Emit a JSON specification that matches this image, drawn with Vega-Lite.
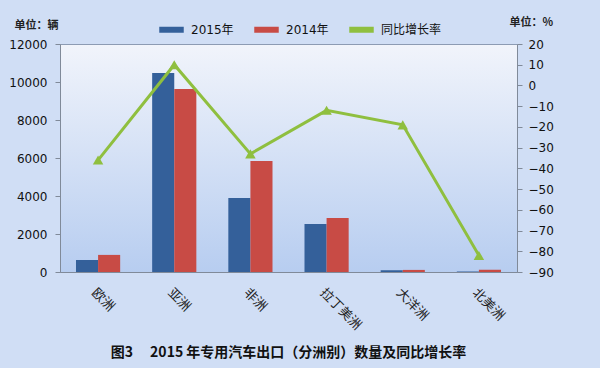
{
  "$schema": "https://vega.github.io/schema/vega-lite/v6.json",
  "width": 457,
  "height": 228,
  "autosize": {"type": "none"},
  "padding": {"left": 60, "top": 44, "right": 83, "bottom": 96},
  "background": "#d0def5",
  "title": {
    "text": "图3\u3000 2015 年专用汽车出口（分洲别）数量及同比增长率",
    "orient": "bottom",
    "anchor": "middle",
    "font": "Noto Sans CJK SC",
    "fontSize": 14,
    "fontWeight": "bold",
    "color": "#111111",
    "offset": 14
  },
  "config": {
    "view": {
      "stroke": "#8c9bb3",
      "fill": {"gradient": "linear", "x1": 0, "y1": 0, "x2": 0, "y2": 1, "stops": [{"offset": 0, "color": "#f1f4fb"}, {"offset": 1, "color": "#b7cdf0"}]}
    },
    "axis": {
      "labelFont": "DejaVu Sans, Noto Sans CJK SC",
      "labelFontSize": 12,
      "labelColor": "#111111",
      "domainColor": "#808a99",
      "tickColor": "#808a99",
      "grid": false,
      "titleFont": "Noto Sans CJK SC",
      "titleFontSize": 11,
      "titleFontWeight": "bold",
      "titleColor": "#222222"
    },
    "legend": {
      "labelFont": "DejaVu Sans, Noto Sans CJK SC",
      "labelFontSize": 12,
      "labelColor": "#111111",
      "symbolType": "stroke",
      "symbolStrokeWidth": 6,
      "symbolSize": 600
    }
  },
  "datasets": {
    "bars": [
      {"洲": "欧洲", "年份": "2015年", "数量": 630},
      {"洲": "欧洲", "年份": "2014年", "数量": 900},
      {"洲": "亚洲", "年份": "2015年", "数量": 10470},
      {"洲": "亚洲", "年份": "2014年", "数量": 9630},
      {"洲": "非洲", "年份": "2015年", "数量": 3900},
      {"洲": "非洲", "年份": "2014年", "数量": 5840},
      {"洲": "拉丁美洲", "年份": "2015年", "数量": 2530},
      {"洲": "拉丁美洲", "年份": "2014年", "数量": 2840},
      {"洲": "大洋洲", "年份": "2015年", "数量": 90},
      {"洲": "大洋洲", "年份": "2014年", "数量": 110},
      {"洲": "北美洲", "年份": "2015年", "数量": 20},
      {"洲": "北美洲", "年份": "2014年", "数量": 120}
    ],
    "growth": [
      {"洲": "欧洲", "增长率": -36},
      {"洲": "亚洲", "增长率": 10},
      {"洲": "非洲", "增长率": -33},
      {"洲": "拉丁美洲", "增长率": -12},
      {"洲": "大洋洲", "增长率": -19},
      {"洲": "北美洲", "增长率": -82}
    ]
  },
  "layer": [
    {
      "data": {"name": "bars"},
      "mark": {"type": "bar"},
      "encoding": {
        "x": {
          "field": "洲",
          "type": "nominal",
          "sort": null,
          "scale": {"paddingInner": 0.42, "paddingOuter": 0.21},
          "axis": {
            "title": null,
            "labelAngle": 45,
            "labelFont": "Noto Sans CJK SC",
            "labelFontSize": 13,
            "labelFontWeight": "normal",
            "labelColor": "#222222",
            "labelPadding": 14,
            "ticks": false
          }
        },
        "xOffset": {"field": "年份", "type": "nominal", "sort": ["2015年", "2014年"]},
        "y": {
          "field": "数量",
          "type": "quantitative",
          "scale": {"domain": [0, 12000]},
          "axis": {
            "orient": "left",
            "values": [0, 2000, 4000, 6000, 8000, 10000, 12000],
            "format": "d",
            "title": "单位：辆",
            "titleAngle": 0,
            "titleX": -46,
            "titleY": -19,
            "titleAlign": "left",
            "titleBaseline": "middle",
            "labelPadding": 8
          }
        },
        "color": {
          "field": "年份",
          "type": "nominal",
          "scale": {"domain": ["2015年", "2014年", "同比增长率"], "range": ["#34609a", "#c84b45", "#8fbf3f"]},
          "legend": {"title": null, "orient": "none", "direction": "horizontal", "legendX": 96, "legendY": -30, "columnPadding": 8}
        }
      }
    },
    {
      "data": {"name": "growth"},
      "mark": {"type": "line", "strokeWidth": 3, "point": {"shape": "triangle-up", "size": 110, "filled": true}},
      "encoding": {
        "x": {"field": "洲", "type": "nominal", "sort": null},
        "y": {
          "field": "增长率",
          "type": "quantitative",
          "scale": {"domain": [-90, 20]},
          "axis": {
            "orient": "right",
            "values": [-90, -80, -70, -60, -50, -40, -30, -20, -10, 0, 10, 20],
            "title": "单位：%",
            "titleAngle": 0,
            "titleX": -8,
            "titleY": -22,
            "titleAlign": "left",
            "titleBaseline": "middle",
            "labelPadding": 6
          }
        },
        "color": {"datum": "同比增长率"}
      }
    }
  ],
  "resolve": {"scale": {"y": "independent"}}
}
